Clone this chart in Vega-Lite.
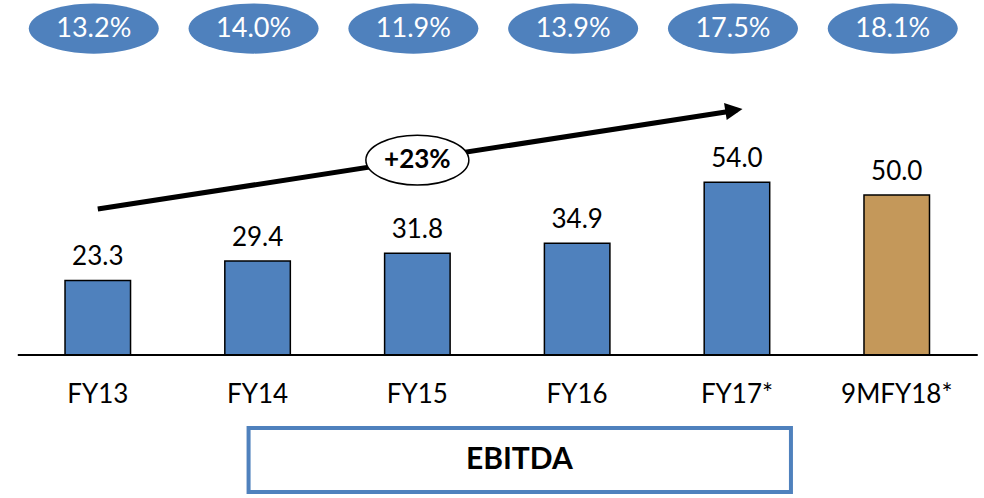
{
  "$schema": "https://vega.github.io/schema/vega-lite/v6.json",
  "width": 984,
  "height": 498,
  "autosize": {"type": "fit", "contains": "padding"},
  "padding": 0,
  "background": "white",
  "config": {"view": {"stroke": null}, "font": "Lato", "text": {"font": "Lato"}},
  "datasets": {
    "bars": [
      {"cat": "FY13", "value": 23.3, "pct": "13.2%", "kind": "actual"},
      {"cat": "FY14", "value": 29.4, "pct": "14.0%", "kind": "actual"},
      {"cat": "FY15", "value": 31.8, "pct": "11.9%", "kind": "actual"},
      {"cat": "FY16", "value": 34.9, "pct": "13.9%", "kind": "actual"},
      {"cat": "FY17*", "value": 54.0, "pct": "17.5%", "kind": "actual"},
      {"cat": "9MFY18*", "value": 50.0, "pct": "18.1%", "kind": "partial"}
    ],
    "trend": [
      {"cat": "FY13", "y": 45.6},
      {"cat": "FY17*", "y": 76.5}
    ]
  },
  "encoding": {
    "x": {
      "field": "cat", "type": "nominal", "axis": null,
      "sort": ["FY13", "FY14", "FY15", "FY16", "FY17*", "9MFY18*"],
      "scale": {"domain": ["FY13", "FY14", "FY15", "FY16", "FY17*", "9MFY18*"], "paddingInner": 0.59, "paddingOuter": 0.374, "align": 0.544}
    }
  },
  "layer": [
    {
      "data": {"name": "bars"},
      "mark": {"type": "bar", "stroke": "black", "strokeWidth": 1.5},
      "encoding": {
        "y": {"field": "value", "type": "quantitative", "axis": null, "scale": {"domain": [-44.69, 110.94], "nice": false, "zero": false}},
        "fill": {"field": "kind", "type": "nominal", "legend": null, "scale": {"domain": ["actual", "partial"], "range": ["#4f81bd", "#c4985a"]}}
      }
    },
    {
      "data": {"name": "bars"},
      "mark": {"type": "text", "baseline": "alphabetic", "dy": -15, "fontSize": 26, "color": "black"},
      "encoding": {
        "y": {"field": "value", "type": "quantitative"},
        "text": {"field": "value", "type": "quantitative", "format": ".1f"}
      }
    },
    {
      "data": {"values": [{"y": 0}]},
      "mark": {"type": "rule", "color": "black", "strokeWidth": 2, "xOffset": -80, "x2Offset": 81},
      "encoding": {
        "x": {"datum": "FY13"},
        "x2": {"datum": "9MFY18*"},
        "y": {"field": "y", "type": "quantitative"}
      }
    },
    {
      "data": {"name": "bars"},
      "mark": {"type": "text", "baseline": "middle", "fontSize": 26, "color": "black"},
      "encoding": {
        "y": {"datum": -12.5},
        "text": {"field": "cat"}
      }
    },
    {
      "data": {"name": "bars"},
      "mark": {"type": "point", "shape": "M -1 0 A 1 0.385 0 1 0 1 0 A 1 0.385 0 1 0 -1 0 Z", "size": 16900, "filled": true, "color": "#4f81bd", "opacity": 1, "xOffset": -4},
      "encoding": {
        "y": {"datum": 102}
      }
    },
    {
      "data": {"name": "bars"},
      "mark": {"type": "text", "baseline": "middle", "fontSize": 27, "color": "white", "xOffset": -4},
      "encoding": {
        "y": {"datum": 102},
        "text": {"field": "pct"}
      }
    },
    {
      "data": {"name": "trend"},
      "mark": {"type": "line", "color": "black", "strokeWidth": 5, "strokeCap": "butt"},
      "encoding": {
        "y": {"field": "y", "type": "quantitative"}
      }
    },
    {
      "data": {"values": [{"cat": "FY17*", "y": 76.5}]},
      "mark": {"type": "point", "shape": "M -1 -1 L 1 0 L -1 1 Z", "size": 300, "filled": true, "color": "black", "opacity": 1, "angle": -8.8, "xOffset": -3},
      "encoding": {
        "y": {"field": "y", "type": "quantitative"}
      }
    },
    {
      "data": {"values": [{"cat": "FY15", "y": 60.9, "label": "+23%"}]},
      "mark": {"type": "point", "shape": "M -1 0 A 1 0.485 0 1 0 1 0 A 1 0.485 0 1 0 -1 0 Z", "size": 10609, "filled": true, "fill": "white", "stroke": "black", "strokeWidth": 1.5, "opacity": 1},
      "encoding": {
        "y": {"field": "y", "type": "quantitative"}
      }
    },
    {
      "data": {"values": [{"cat": "FY15", "y": 60.9, "label": "+23%"}]},
      "mark": {"type": "text", "baseline": "middle", "fontSize": 26, "fontWeight": "bold", "color": "black"},
      "encoding": {
        "y": {"field": "y", "type": "quantitative"},
        "text": {"field": "label"}
      }
    },
    {
      "data": {"values": [{"from": "FY14", "to": "FY17*", "top": -22.8, "bottom": -42.8}]},
      "mark": {"type": "rect", "fill": "white", "stroke": "#4f81bd", "strokeWidth": 4, "xOffset": -9, "x2Offset": 54},
      "encoding": {
        "x": {"field": "from", "type": "nominal", "bandPosition": 0.5},
        "x2": {"field": "to", "bandPosition": 0.5},
        "y": {"field": "top", "type": "quantitative"},
        "y2": {"field": "bottom"}
      }
    },
    {
      "data": {"values": [{"label": "EBITDA", "y": -32.8}]},
      "mark": {"type": "text", "baseline": "middle", "fontSize": 30, "fontWeight": "bold", "color": "black", "xOffset": 102},
      "encoding": {
        "x": {"datum": "FY15"},
        "y": {"field": "y", "type": "quantitative"},
        "text": {"field": "label"}
      }
    }
  ]
}
